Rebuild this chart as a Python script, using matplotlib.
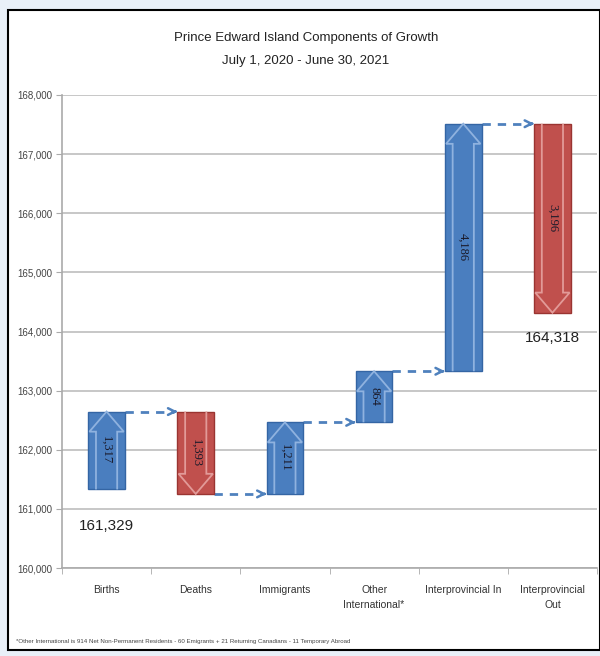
import matplotlib.pyplot as plt
import matplotlib.patches as mpatches
from matplotlib.ticker import FuncFormatter, MultipleLocator, FixedLocator

plt.rcParams['font.family'] = ['Liberation Sans Narrow', 'Liberation Sans', 'DejaVu Sans']

# components of growth, July 1 2020 - June 30 2021
categories = ["Births", "Deaths", "Immigrants", "Other\nInternational*",
              "Interprovincial In", "Interprovincial\nOut"]
changes = [1317, -1393, 1211, 864, 4186, -3196]
start_pop = 161329
end_pop = 164318

title = "Prince Edward Island Components of Growth\nJuly 1, 2020 - June 30, 2021"
footnote = ("*Other International is 914 Net Non-Permanent Residents - 60 Emigrants "
            "+ 21 Returning Canadians - 11 Temporary Abroad")

BLUE = "#4a7ebf"
BLUE_EDGE = "#3465a4"
BLUE_LIGHT = "#8fb2df"
RED = "#c0504d"
RED_EDGE = "#9a3431"
RED_LIGHT = "#e29a98"

fig = plt.figure(figsize=(6, 6.56), dpi=100)
fig.patch.set_facecolor("#e9f0f8")

# white panel with black frame
panel = mpatches.Rectangle((8 / 600, 6 / 656), 1 - 8 / 600, 1 - 16 / 656,
                           transform=fig.transFigure, facecolor="white",
                           edgecolor="black", lw=1.5, zorder=-10)
fig.patches.append(panel)

ax = fig.add_axes([62 / 600, (656 - 568) / 656, (597 - 62) / 600, (568 - 95) / 656])
ax.set_zorder(5)
ax.set_facecolor("white")

width = 0.41
levels = [start_pop]
for c in changes:
    levels.append(levels[-1] + c)

for i, c in enumerate(changes):
    lo = min(levels[i], levels[i + 1])
    hi = max(levels[i], levels[i + 1])
    up = c > 0
    face = BLUE if up else RED
    edge = BLUE_EDGE if up else RED_EDGE
    light = BLUE_LIGHT if up else RED_LIGHT
    ax.bar(i, hi - lo, bottom=lo, width=width, color=face, edgecolor=edge,
           lw=1.0, zorder=3)

    # block arrow outline inside the bar
    shaft = width * 0.29
    head = width * 0.47
    head_len = 340
    if up:
        tip, base = hi, lo
        neck = tip - head_len
    else:
        tip, base = lo, hi
        neck = tip + head_len
    pts = [(i - shaft, base), (i - shaft, neck), (i - head, neck), (i, tip),
           (i + head, neck), (i + shaft, neck), (i + shaft, base)]
    ax.add_patch(mpatches.Polygon(pts, closed=False, fill=False, edgecolor=light,
                                  lw=1.3, zorder=4))

    ax.text(i, (lo + hi) / 2, f"{abs(c):,}", rotation=-90, ha="center",
            va="center", fontsize=9, color="#1a1a2a", zorder=5,
            family=['Liberation Serif', 'DejaVu Serif'])

# dashed connectors between bars
for i in range(len(changes) - 1):
    y = levels[i + 1]
    x0 = i + width / 2
    x1 = i + 1 - width / 2
    ax.plot([x0, x1 - 0.04], [y, y], ls=(0, (3, 2.5)), color="#4f81bd",
            lw=2.0, zorder=2)
    ax.annotate("", xy=(x1, y), xytext=(x1 - 0.06, y),
                arrowprops=dict(arrowstyle="->", color="#4f81bd", lw=1.8,
                                mutation_scale=12), zorder=2)

ax.annotate(f"{start_pop:,}", xy=(0, start_pop), xytext=(0, -26),
            textcoords="offset points", ha="center", va="center",
            fontsize=11, color="#222222")
ax.annotate(f"{end_pop:,}", xy=(len(changes) - 1, end_pop), xytext=(0, -18),
            textcoords="offset points", ha="center", va="center",
            fontsize=11, color="#222222")

ax.set_xlim(-0.5, len(categories) - 0.5)
ax.set_ylim(160000, 168000)
ax.yaxis.set_major_locator(MultipleLocator(1000))
ax.yaxis.set_major_formatter(FuncFormatter(lambda v, p: f"{int(v):,}"))
ax.grid(axis="y", color="#bdbdbd", lw=1.2, zorder=0)
ax.set_axisbelow(True)

ax.set_xticks(range(len(categories)))
ax.set_xticklabels(categories, fontsize=7.5, color="#333333", linespacing=1.7)
ax.xaxis.set_minor_locator(FixedLocator([k + 0.5 for k in range(-1, len(categories))]))
ax.tick_params(axis="x", which="major", length=0, pad=12)
ax.tick_params(axis="x", which="minor", length=4, color="#aaaaaa")
ax.tick_params(axis="y", labelsize=7, colors="#444444", length=4, pad=3)
ax.tick_params(axis="y", color="#aaaaaa")

for s in ["top", "right"]:
    ax.spines[s].set_visible(False)
for s in ["left", "bottom"]:
    ax.spines[s].set_color("#aaaaaa")
    ax.spines[s].set_linewidth(1.2)

fig.text(0.5 + 0.01, 0.925, title, ha="center", va="center", fontsize=9.5,
         color="#222222", linespacing=2.2)
fig.text(0.027, 0.022, footnote, ha="left", va="center", fontsize=4.4,
         color="#444444")

fig.savefig("out.png", dpi=100, facecolor=fig.get_facecolor())
